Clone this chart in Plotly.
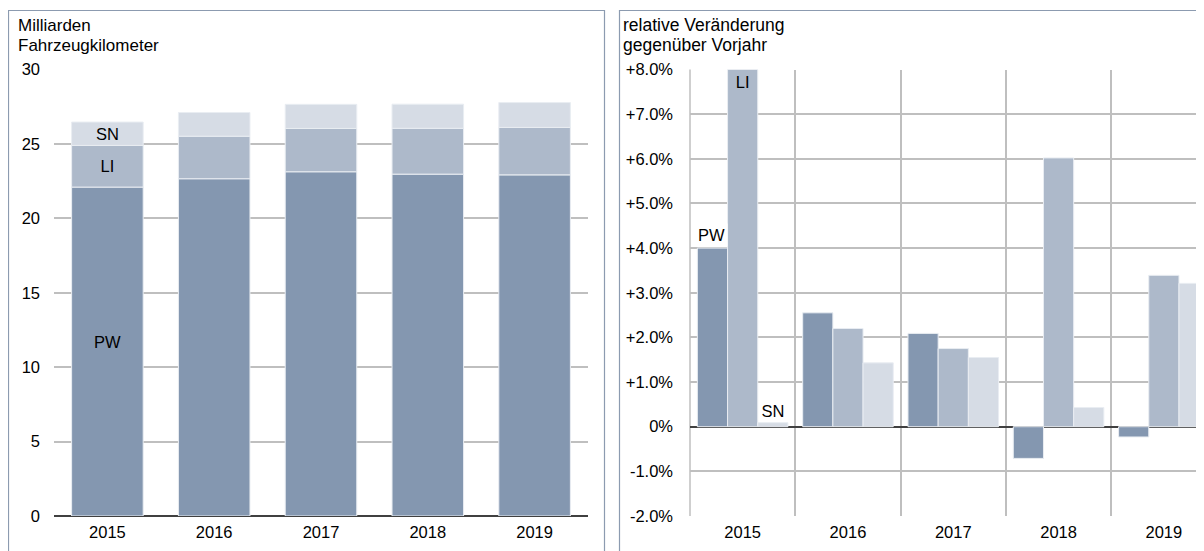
import plotly.graph_objects as go

years = ["2015", "2016", "2017", "2018", "2019"]

# absolute values, Milliarden Fahrzeugkilometer
pw_abs = [22.10, 22.66, 23.13, 22.97, 22.92]
li_abs = [2.80, 2.86, 2.91, 3.08, 3.19]
sn_abs = [1.57, 1.59, 1.62, 1.62, 1.67]

# relative change vs previous year, in %
pw_rel = [4.00, 2.55, 2.09, -0.71, -0.23]
li_rel = [8.00, 2.20, 1.75, 6.02, 3.39]
sn_rel = [0.09, 1.43, 1.55, 0.43, 3.21]

y_ticks_left = [0, 5, 10, 15, 20, 25, 30]
y_ticks_right = [-2, -1, 0, 1, 2, 3, 4, 5, 6, 7, 8]
y_ticktext_right = ["-2.0%", "-1.0%", "0%", "+1.0%", "+2.0%", "+3.0%",
                    "+4.0%", "+5.0%", "+6.0%", "+7.0%", "+8.0%"]

C_PW = "#8497B0"
C_LI = "#ADB9CA"
C_SN = "#D6DCE5"
FONT = "Liberation Sans, Arial, sans-serif"
FS = 16.5

W, H = 1204, 551
OFF = 8  # page body margin


def px(x):
    return (x - OFF) / W


def py(y):
    return (H - (y - OFF)) / H


fig = go.Figure()

base_li = pw_abs
base_sn = [p + l for p, l in zip(pw_abs, li_abs)]

for name, vals, base, col in [("PW", pw_abs, [0] * 5, C_PW),
                              ("LI", li_abs, base_li, C_LI),
                              ("SN", sn_abs, base_sn, C_SN)]:
    txt = [name if (i == 0 and name != "PW") else "" for i in range(5)]
    fig.add_trace(go.Bar(
        x=years, y=vals, base=base, xaxis="x", yaxis="y",
        marker=dict(color=col, line=dict(color="#E9EDF2", width=1)),
        offsetgroup="L", width=0.67,
        text=txt, textposition="inside", insidetextanchor="middle",
        textangle=0, constraintext="none",
        textfont=dict(family=FONT, size=FS, color="black"),
        showlegend=False, hoverinfo="skip"))

for name, vals, col, pos in [("PW", pw_rel, C_PW, "none"),
                             ("LI", li_rel, C_LI, "inside"),
                             ("SN", sn_rel, C_SN, "outside")]:
    txt = [name if (i == 0 and name != "PW") else "" for i in range(5)]
    fig.add_trace(go.Bar(
        x=years, y=vals, xaxis="x2", yaxis="y2",
        marker=dict(color=col, line=dict(color="#E9EDF2", width=1)),
        offsetgroup=name,
        text=txt, textposition=pos, insidetextanchor="end",
        textangle=0, constraintext="none",
        textfont=dict(family=FONT, size=FS, color="black"),
        cliponaxis=False,
        showlegend=False, hoverinfo="skip"))

first = 0  # category index of the first year

# PW label on left chart
fig.add_annotation(x=first, y=pw_abs[first] * 0.53, xref="x", yref="y",
                   text="PW", showarrow=False,
                   font=dict(family=FONT, size=FS, color="black"))
# PW label on right chart (white box above the bar)
fig.add_annotation(x=first, y=pw_rel[first], xref="x2", yref="y2",
                   xshift=-31, yanchor="bottom", yshift=1,
                   text="PW", showarrow=False, bgcolor="white",
                   borderpad=2,
                   font=dict(family=FONT, size=FS, color="black"))

y_dom = [py(516), py(69.5)]

fig.update_layout(
    width=W, height=H,
    margin=dict(l=0, r=0, t=0, b=0, autoexpand=False),
    paper_bgcolor="white", plot_bgcolor="white",
    barmode="group", bargap=0.14, bargroupgap=0,
    font=dict(family=FONT, size=FS, color="black"),
    xaxis=dict(domain=[px(54), px(588)], type="category",
               range=[-0.5, 4.5], showgrid=False, ticks="",
               showline=False, zeroline=False, automargin=False,
               ticklabelstandoff=4,
               tickfont=dict(size=FS), anchor="y"),
    yaxis=dict(domain=y_dom, range=[0, 30], tickvals=y_ticks_left,
               showgrid=True, gridcolor="#BFBFBF", gridwidth=1.5,
               zeroline=True, zerolinecolor="#404040", zerolinewidth=1.5,
               ticks="", ticklabelstandoff=13, automargin=False,
               tickfont=dict(size=FS), anchor="x"),
    xaxis2=dict(domain=[px(690), px(1204)], type="category",
                range=[-0.5, 4.381], tickson="boundaries",
                showgrid=True, gridcolor="#BFBFBF", gridwidth=1.5,
                ticks="", showline=False, zeroline=False, automargin=False,
                ticklabelstandoff=4,
                tickfont=dict(size=FS), anchor="y2"),
    yaxis2=dict(domain=y_dom, range=[-2, 8], tickvals=y_ticks_right,
                ticktext=y_ticktext_right,
                showgrid=True, gridcolor="#BFBFBF", gridwidth=1.5,
                zeroline=True, zerolinecolor="#404040", zerolinewidth=1.5,
                ticks="", ticklabelstandoff=16, automargin=False,
                tickfont=dict(size=FS), anchor="x2"),
)

# left boundary line of right plot
fig.add_shape(type="line", xref="paper", yref="paper",
              x0=px(690), x1=px(690), y0=y_dom[0], y1=y_dom[1],
              line=dict(color="#BFBFBF", width=1.5), layer="below")

# panel borders
fig.add_shape(type="rect", xref="paper", yref="paper",
              x0=px(8.5), x1=px(604.5), y0=-0.05, y1=py(10.5),
              line=dict(color="#8C9BB0", width=1.2), layer="below")
fig.add_shape(type="rect", xref="paper", yref="paper",
              x0=px(619.5), x1=1.05, y0=-0.05, y1=py(10.5),
              line=dict(color="#8C9BB0", width=1.2), layer="below")

# panel titles (one annotation per line for exact line spacing)
for x0, lines, fs in [(16, ["Milliarden", "Fahrzeugkilometer"], 17),
                      (621, ["relative Veränderung", "gegenüber Vorjahr"], 17.5)]:
    for yc, line in zip([25, 45.5], lines):
        fig.add_annotation(x=px(x0), y=py(yc), xref="paper", yref="paper",
                           xanchor="left", yanchor="middle", align="left",
                           text=line, showarrow=False,
                           font=dict(family=FONT, size=fs, color="black"))

fig.write_html("out.html")
